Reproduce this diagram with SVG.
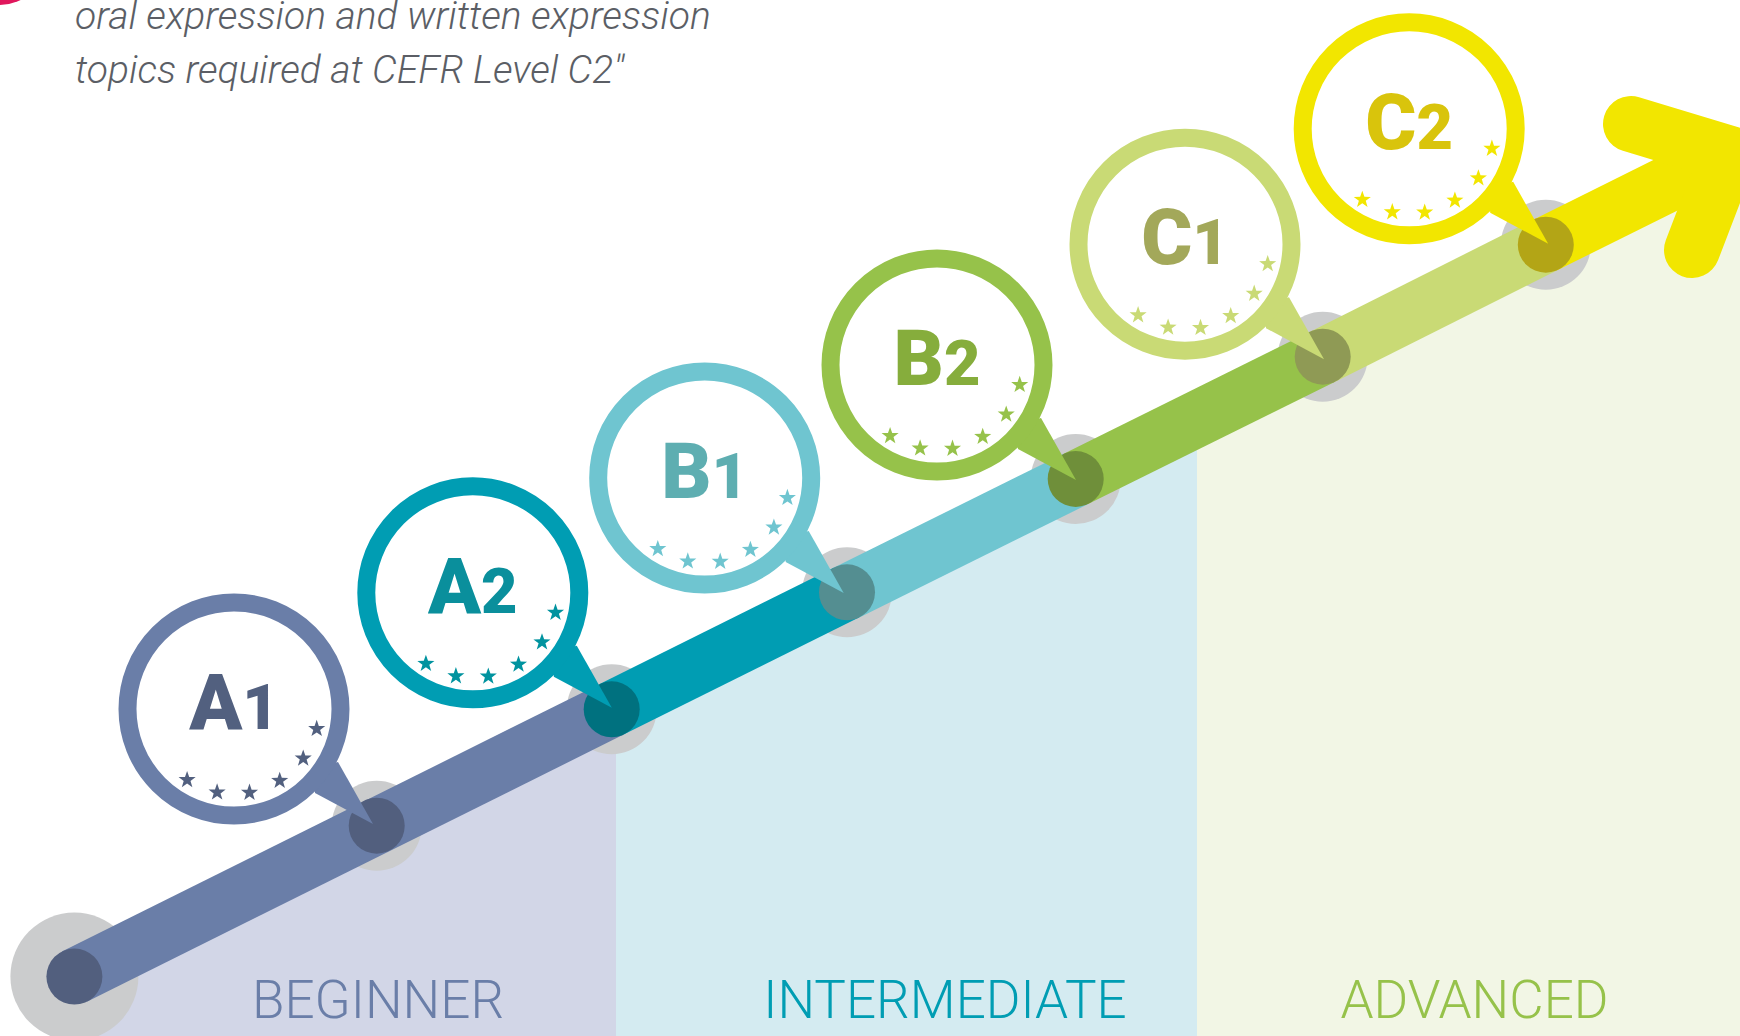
<svg xmlns="http://www.w3.org/2000/svg" xmlns:xlink="http://www.w3.org/1999/xlink" width="1740" height="1036" viewBox="0 0 1740 1036">
<style>
.head{font-family:Roboto,"Liberation Sans",sans-serif;font-style:italic;font-weight:300;font-size:39px;fill:#5b5e65}
.band-label{font-family:Roboto,"Liberation Sans",sans-serif;font-weight:300;font-size:53px;text-anchor:middle}
.lvl{font-family:Roboto,"Liberation Sans",sans-serif;font-weight:900;font-size:78px;text-anchor:middle}
.lvl .d{font-size:63px}
.ring{fill:#fff;stroke-width:18}
.seg{fill:none;stroke-width:56;stroke-linecap:butt}
.halo{fill:#cbcccd}
</style>
<defs>
<path id="star" d="M0,-9 L2.12,-2.91 L8.56,-2.78 L3.42,1.11 L5.29,7.28 L0,3.6 L-5.29,7.28 L-3.42,1.11 L-8.56,-2.78 L-2.12,-2.91Z"/>
<g id="stars">
<use xlink:href="#star" x="-46.9" y="70.9"/>
<use xlink:href="#star" x="-16.9" y="83.3"/>
<use xlink:href="#star" x="15.5" y="83.6"/>
<use xlink:href="#star" x="45.7" y="71.7"/>
<use xlink:href="#star" x="69.2" y="49.4"/>
<use xlink:href="#star" x="82.7" y="19.8"/>
</g>
</defs>
<rect width="1740" height="1036" fill="#fff"/>
<circle cx="0" cy="-40" r="45" fill="#e0165c"/>
<text class="head" x="75" y="29">oral expression and written expression</text>
<text class="head" x="75" y="83">topics required at CEFR Level C2"</text>

<g id="bands">
<polygon points="74.4,976.6 616,707.2 616,1036 74.4,1036" fill="#d2d6e7"/>
<polygon points="616,707.2 1197,418.2 1197,1036 616,1036" fill="#d4ebf1"/>
<polygon points="1197,418.2 1740,148.1 1740,1036 1197,1036" fill="#f2f6e5"/>
<text class="band-label" x="378" y="1018" fill="#6a7ea8">BEGINNER</text>
<text class="band-label" x="945" y="1018" fill="#009db3">INTERMEDIATE</text>
<text class="band-label" x="1474.5" y="1018" fill="#96c24a">ADVANCED</text>
</g>

<g id="connectors">
<circle class="halo" cx="74.4" cy="976.6" r="64"/>
<circle class="halo" cx="376.7" cy="825.7" r="45"/>
<circle class="halo" cx="611.7" cy="709.3" r="45"/>
<circle class="halo" cx="847" cy="592.3" r="45"/>
<circle class="halo" cx="1075.7" cy="479" r="45"/>
<circle class="halo" cx="1322.7" cy="356.7" r="45"/>
<circle class="halo" cx="1545.8" cy="244.7" r="45"/>
<line class="seg" x1="74.4" y1="976.6" x2="611.7" y2="709.3" stroke="#6a7ea8"/>
<line class="seg" x1="611.7" y1="709.3" x2="847" y2="592.3" stroke="#009db3"/>
<line class="seg" x1="847" y1="592.3" x2="1075.7" y2="479" stroke="#6fc5d0"/>
<line class="seg" x1="1075.7" y1="479" x2="1322.7" y2="356.7" stroke="#96c24a"/>
<line class="seg" x1="1322.7" y1="356.7" x2="1545.8" y2="244.7" stroke="#c9da75"/>
<line class="seg" x1="1545.8" y1="244.7" x2="1729" y2="153.6" stroke="#f2e600"/>
<polyline points="1631,124 1729,153.6 1692,250" fill="none" stroke="#f2e600" stroke-width="56" stroke-linecap="round" stroke-linejoin="miter" stroke-miterlimit="10"/>
<circle cx="74.4" cy="976.6" r="28" fill="#525f7e"/>
<circle cx="376.7" cy="825.7" r="28" fill="#525f7e"/>
<circle cx="611.7" cy="709.3" r="28" fill="#00717f"/>
<circle cx="847" cy="592.3" r="28" fill="#548e91"/>
<circle cx="1075.7" cy="479" r="28" fill="#6f8f3a"/>
<circle cx="1322.7" cy="356.7" r="28" fill="#8f9a55"/>
<circle cx="1545.8" cy="244.7" r="28" fill="#b3a516"/>
</g>

<g id="A1" transform="translate(234,709)">
<polygon points="104,53 139,115 81,84 80.4,59.5" fill="#6a7ea8"/>
<circle class="ring" r="106.5" stroke="#6a7ea8"/>
<text class="lvl" y="20" fill="#52607f">A<tspan class="d">1</tspan></text>
<use xlink:href="#stars" fill="#52607f"/>
</g>
<g id="A2" transform="translate(472.8,592.8)">
<polygon points="104,53 139,115 81,84 80.4,59.5" fill="#009db3"/>
<circle class="ring" r="106.5" stroke="#009db3"/>
<text class="lvl" y="20" fill="#0a8f9c">A<tspan class="d">2</tspan></text>
<use xlink:href="#stars" fill="#00939f"/>
</g>
<g id="B1" transform="translate(704.7,478)">
<polygon points="104,53 139,115 81,84 80.4,59.5" fill="#6fc5d0"/>
<circle class="ring" r="106.5" stroke="#6fc5d0"/>
<text class="lvl" y="20" fill="#5eaeb1">B<tspan class="d">1</tspan></text>
<use xlink:href="#stars" fill="#6fc5d0"/>
</g>
<g id="B2" transform="translate(937,365)">
<polygon points="104,53 139,115 81,84 80.4,59.5" fill="#96c24a"/>
<circle class="ring" r="106.5" stroke="#96c24a"/>
<text class="lvl" y="20" fill="#86ad3c">B<tspan class="d">2</tspan></text>
<use xlink:href="#stars" fill="#96c24a"/>
</g>
<g id="C1" transform="translate(1185,244.2)">
<polygon points="104,53 139,115 81,84 80.4,59.5" fill="#c9da75"/>
<circle class="ring" r="106.5" stroke="#c9da75"/>
<text class="lvl" y="20" fill="#a3a85a">C<tspan class="d">1</tspan></text>
<use xlink:href="#stars" fill="#c9da75"/>
</g>
<g id="C2" transform="translate(1409.2,128.8)">
<polygon points="104,53 139,115 81,84 80.4,59.5" fill="#f2e600"/>
<circle class="ring" r="106.5" stroke="#f2e600"/>
<text class="lvl" y="20" fill="#d9c40c">C<tspan class="d">2</tspan></text>
<use xlink:href="#stars" fill="#f2e600"/>
</g>
</svg>
